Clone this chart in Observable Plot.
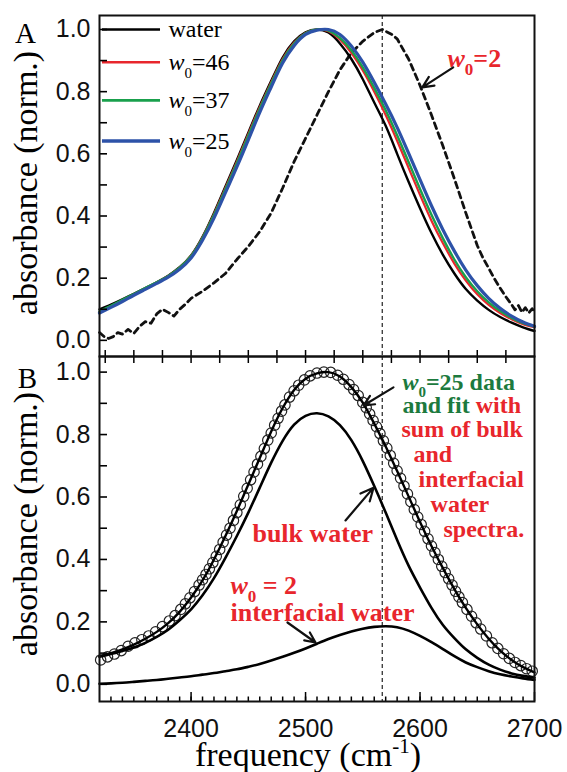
<!DOCTYPE html>
<html>
<head>
<meta charset="utf-8">
<script src="https://cdn.jsdelivr.net/npm/d3@7"></script>
<script src="https://cdn.jsdelivr.net/npm/@observablehq/plot@0.6"></script>
<style>
  body { margin: 0; background: #fff; }
  #chart { width: 567px; }
  #chart svg { display: block; overflow: visible; }
</style>
</head>
<body>
<div id="chart"></div>
<script>
// ---------------- DATA ----------------
const freq = [2320,2330,2340,2350,2360,2370,2380,2390,2400,2410,2420,2430,2440,2450,2460,2470,2480,2490,2500,2510,2520,2530,2540,2550,2560,2570,2580,2590,2600,2610,2620,2630,2640,2650,2660,2670,2680,2690,2700];

// Panel A
const water = [0.100,0.115,0.132,0.150,0.168,0.187,0.208,0.235,0.273,0.333,0.410,0.495,0.580,0.668,0.755,0.835,0.910,0.962,0.991,1.000,0.990,0.955,0.905,0.840,0.765,0.690,0.600,0.510,0.425,0.345,0.275,0.215,0.165,0.128,0.098,0.075,0.057,0.042,0.030];
const w46 = [0.092,0.110,0.129,0.148,0.167,0.186,0.207,0.234,0.272,0.331,0.406,0.490,0.575,0.663,0.750,0.830,0.905,0.958,0.989,1.000,0.994,0.968,0.925,0.868,0.800,0.725,0.642,0.555,0.468,0.385,0.312,0.247,0.192,0.148,0.114,0.088,0.068,0.052,0.042];
const w37 = [0.093,0.111,0.130,0.149,0.168,0.187,0.207,0.234,0.271,0.329,0.403,0.486,0.570,0.658,0.745,0.826,0.901,0.955,0.988,1.000,0.996,0.973,0.933,0.878,0.812,0.740,0.660,0.574,0.487,0.404,0.328,0.260,0.203,0.158,0.122,0.094,0.072,0.055,0.044];
const w25 = [0.088,0.106,0.125,0.145,0.164,0.183,0.203,0.229,0.265,0.322,0.393,0.475,0.558,0.645,0.733,0.815,0.892,0.948,0.984,0.998,1.000,0.984,0.947,0.895,0.830,0.760,0.685,0.602,0.517,0.433,0.356,0.287,0.226,0.176,0.135,0.103,0.078,0.059,0.045];

const w2Freq = [2320,2324,2328,2332,2336,2340,2345,2350,2355,2360,2365,2370,2375,2380,2385,2390,2395,2400,2410,2420,2430,2440,2450,2460,2470,2480,2490,2500,2510,2520,2530,2540,2550,2560,2567,2575,2580,2590,2600,2610,2620,2630,2640,2650,2655,2660,2665,2670,2675,2680,2683,2686,2689,2692,2695,2698,2700];
const w2 = [0.025,0.012,0.006,0.012,0.025,0.020,0.035,0.022,0.045,0.060,0.055,0.085,0.100,0.090,0.078,0.100,0.116,0.135,0.158,0.185,0.215,0.260,0.302,0.350,0.410,0.490,0.575,0.650,0.725,0.800,0.870,0.925,0.962,0.990,1.000,0.985,0.970,0.905,0.820,0.725,0.625,0.520,0.410,0.305,0.265,0.232,0.198,0.168,0.140,0.115,0.098,0.112,0.090,0.105,0.088,0.102,0.090];

// Panel B
const bulk = [0.088,0.097,0.107,0.118,0.133,0.152,0.175,0.205,0.240,0.285,0.340,0.405,0.475,0.550,0.630,0.710,0.780,0.832,0.860,0.868,0.858,0.830,0.782,0.715,0.635,0.550,0.462,0.380,0.310,0.245,0.190,0.148,0.112,0.085,0.063,0.047,0.035,0.027,0.021];
const interfacial = [0.002,0.003,0.005,0.008,0.011,0.014,0.018,0.022,0.026,0.031,0.036,0.042,0.048,0.056,0.065,0.076,0.088,0.101,0.115,0.130,0.145,0.158,0.169,0.178,0.184,0.186,0.183,0.172,0.155,0.135,0.113,0.090,0.070,0.055,0.042,0.032,0.025,0.019,0.014];
const fit = [0.090,0.100,0.112,0.127,0.146,0.168,0.196,0.232,0.278,0.333,0.400,0.475,0.555,0.640,0.725,0.810,0.885,0.943,0.979,0.996,1.000,0.986,0.952,0.902,0.835,0.762,0.683,0.602,0.520,0.443,0.372,0.305,0.245,0.192,0.146,0.108,0.078,0.055,0.038];

const circleFreq = [2321,2327,2333,2339,2345,2351,2357,2363,2369,2375,2381,2386,2391,2395,2399,2403,2407,2410,2413,2416,2419,2422,2425,2428,2431,2434,2437,2440,2443,2446,2449,2452,2455,2458,2461,2464,2467,2470,2473,2476,2479,2482,2486,2490,2494,2499,2504,2510,2516,2522,2528,2533,2538,2542,2546,2550,2553,2556,2559,2562,2565,2568,2571,2574,2577,2580,2583,2586,2589,2592,2595,2598,2601,2604,2607,2610,2613,2616,2619,2622,2625,2628,2631,2634,2637,2641,2645,2649,2653,2658,2663,2668,2673,2678,2683,2688,2693,2698];
const circleVal = [0.078,0.088,0.097,0.108,0.122,0.133,0.143,0.155,0.168,0.185,0.203,0.220,0.240,0.258,0.277,0.297,0.318,0.335,0.352,0.370,0.390,0.410,0.432,0.455,0.478,0.500,0.525,0.550,0.575,0.602,0.628,0.655,0.680,0.705,0.730,0.755,0.782,0.805,0.830,0.852,0.875,0.895,0.920,0.940,0.958,0.975,0.988,0.997,1.000,0.999,0.990,0.977,0.960,0.944,0.925,0.903,0.886,0.866,0.845,0.825,0.803,0.780,0.757,0.733,0.708,0.684,0.660,0.635,0.610,0.585,0.560,0.536,0.512,0.490,0.466,0.443,0.422,0.400,0.378,0.358,0.338,0.318,0.298,0.280,0.262,0.240,0.218,0.197,0.177,0.155,0.133,0.115,0.098,0.083,0.070,0.060,0.050,0.042];

// ticks & labels
const xTickLabels = [2400, 2500, 2600, 2700];
const yTickLabels = [0.0, 0.2, 0.4, 0.6, 0.8, 1.0];
const peakFreq = [2567];
const legendLabels = ["water", "w0=46", "w0=37", "w0=25"];
const panelLabels = ["A", "B"];
const yTitle = "absorbance (norm.)";
const xTitle = "frequency (cm-1)";

// annotations (text + anchor in data coordinates)
const annotA = [{text: "w0=2", x: 2624, y: 0.905}];
const arrowsA = [{x1: 2629, y1: 0.878, x2: 2602, y2: 0.814}];
const annotBRight = [
  {text: "w0=25 data", x: 2584.6, y: 0.967},
  {text: "and fit with", x: 2584.6, y: 0.893},
  {text: "sum of bulk", x: 2583.8, y: 0.816},
  {text: "and", x: 2594.3, y: 0.736},
  {text: "interfacial", x: 2598.7, y: 0.656},
  {text: "water", x: 2609.2, y: 0.576},
  {text: "spectra.", x: 2620.5, y: 0.496}
];
const annotBLeft = [
  {text: "bulk water", x: 2453.6, y: 0.483},
  {text: "w0 = 2", x: 2434.4, y: 0.316},
  {text: "interfacial water", x: 2434.4, y: 0.229}
];
const arrowsB = [
  {x1: 2576.8, y1: 0.951, x2: 2550.6, y2: 0.893},
  {x1: 2534.9, y1: 0.525, x2: 2559.4, y2: 0.630},
  {x1: 2484.2, y1: 0.198, x2: 2508.7, y2: 0.134}
];

// ---------------- STYLE / LAYOUT ----------------
const SERIF = "Liberation Serif";
const SANS = "Liberation Sans";
const RED = "#e8262c";
const GREEN = "#1c7a3e";
const BLUE = "#2d52a8";
const GREENLINE = "#19a04c";
const W = 567;
const X_DOMAIN = [2320, 2700];
const legendY = [1.0, 0.895, 0.772, 0.641];
const legendX = [2322.6, 2373.3];
const legendTextX = 2380.3;
const seriesStyle = [
  {values: water, color: "#000", width: 2.4},
  {values: w46, color: RED, width: 2.2},
  {values: w37, color: GREENLINE, width: 2.4},
  {values: w25, color: BLUE, width: 3.2}
];

const rows = (xs, ys) => xs.map((x, i) => ({x, y: ys[i]}));
const yMinor = d3.range(0, 10.5, 1).map(d => d / 10);
const x25 = d3.range(2325, 2700, 25);
const x10 = d3.range(2330, 2700, 10);

const leftAxes = () => [
  Plot.axisY(yMinor, {anchor: "left", tickSize: -8, tickFormat: () => "", label: null, strokeWidth: 1.6}),
  Plot.axisY(yTickLabels, {anchor: "left", tickSize: 0, tickPadding: 9, tickFormat: d3.format(".1f"), label: null, fontSize: 25, fontFamily: SANS, fill: "#111"})
];
const yTitleMark = (dy) => Plot.text([yTitle], {frameAnchor: "left", dx: -73, dy, rotate: -90, text: d => d, textAnchor: "middle", lineAnchor: "middle", fontFamily: SERIF, fontSize: 34, fill: "black"});
const panelLabel = (t, dx, dy) => Plot.text([t], {frameAnchor: "top-left", dx, dy, text: d => d, textAnchor: "middle", lineAnchor: "middle", fontFamily: SERIF, fontSize: 29, fill: "black"});

// ---------------- PANEL A ----------------
const plotA = Plot.plot({
  width: W, height: 356,
  marginTop: 15, marginBottom: 0, marginLeft: 99, marginRight: 33,
  x: {domain: X_DOMAIN, label: null},
  y: {domain: [-0.052, 1.045], label: null},
  style: {background: "white", overflow: "visible", fontFamily: SANS, color: "black"},
  marks: [
    Plot.ruleX(peakFreq, {stroke: "#222", strokeWidth: 1.2, strokeDasharray: "4,3"}),
    Plot.line(rows(w2Freq, w2), {x: "x", y: "y", stroke: "#111", strokeWidth: 2.8, strokeDasharray: "6,4.5"}),
    ...seriesStyle.map(s => Plot.line(rows(freq, s.values), {x: "x", y: "y", stroke: s.color, strokeWidth: s.width, curve: "natural"})),
    ...seriesStyle.map((s, i) => Plot.ruleY([legendY[i]], {x1: legendX[0], x2: legendX[1], stroke: s.color, strokeWidth: s.width + 0.3})),
    ...legendLabels.map((lab, i) => Plot.text([lab], {x: legendTextX, y: legendY[i], text: d => d, textAnchor: "start", fontFamily: SERIF, fontSize: 24, fill: "black"})),
    Plot.text(annotA, {x: "x", y: "y", text: "text", textAnchor: "start", fontFamily: SERIF, fontSize: 26, fontWeight: "bold", fill: RED}),
    Plot.arrow(arrowsA, {x1: "x1", y1: "y1", x2: "x2", y2: "y2", stroke: "#111", strokeWidth: 2.2, headLength: 11, headAngle: 50}),
    ...leftAxes(),
    Plot.axisX(x25, {anchor: "bottom", tickSize: -6, tickFormat: () => "", label: null, strokeWidth: 1.5}),
    Plot.frame({stroke: "#111", strokeWidth: 2}),
    panelLabel(panelLabels[0], -74, 18),
    yTitleMark(-3)
  ]
});

// ---------------- PANEL B ----------------
const plotB = Plot.plot({
  width: W, height: 416,
  marginTop: 0, marginBottom: 71, marginLeft: 99, marginRight: 33,
  x: {domain: X_DOMAIN, label: null},
  y: {domain: [-0.055, 1.05], label: null},
  style: {background: "white", overflow: "visible", fontFamily: SANS, color: "black"},
  marks: [
    Plot.ruleX(peakFreq, {stroke: "#222", strokeWidth: 1.2, strokeDasharray: "4,3"}),
    Plot.dot(rows(circleFreq, circleVal), {x: "x", y: "y", r: 5.2, stroke: "#222", strokeWidth: 1.2, fill: "none"}),
    Plot.line(rows(freq, bulk), {x: "x", y: "y", stroke: "#000", strokeWidth: 2.6, curve: "natural"}),
    Plot.line(rows(freq, interfacial), {x: "x", y: "y", stroke: "#000", strokeWidth: 2.6, curve: "natural"}),
    Plot.line(rows(freq, fit), {x: "x", y: "y", stroke: "#000", strokeWidth: 2.4, curve: "natural"}),
    Plot.text(annotBRight, {x: "x", y: "y", text: "text", textAnchor: "start", fontFamily: SERIF, fontSize: 24, fontWeight: "bold", fill: RED}),
    Plot.text(annotBLeft, {x: "x", y: "y", text: "text", textAnchor: "start", fontFamily: SERIF, fontSize: 26, fontWeight: "bold", fill: RED}),
    Plot.arrow(arrowsB, {x1: "x1", y1: "y1", x2: "x2", y2: "y2", stroke: "#111", strokeWidth: 2.2, headLength: 11, headAngle: 50}),
    ...leftAxes(),
    Plot.axisX(x25, {anchor: "top", tickSize: -6, tickFormat: () => "", label: null, strokeWidth: 1.5}),
    Plot.axisX(x10, {anchor: "bottom", tickSize: -4.5, tickFormat: () => "", label: null, strokeWidth: 1.5}),
    Plot.axisX(xTickLabels, {anchor: "bottom", tickSize: -9, tickFormat: () => "", label: null, strokeWidth: 1.5}),
    Plot.axisX(xTickLabels, {anchor: "bottom", tickSize: 0, tickPadding: 18, tickFormat: d => String(d), label: null, fontSize: 25, fontFamily: SANS, fill: "#111"}),
    Plot.frame({stroke: "#111", strokeWidth: 2}),
    panelLabel(panelLabels[1], -72, 22),
    yTitleMark(-5),
    Plot.text([xTitle], {frameAnchor: "bottom", dx: -9, dy: 54, text: d => d, textAnchor: "middle", lineAnchor: "middle", fontFamily: SERIF, fontSize: 34, fill: "black"})
  ]
});

// ---------------- rich text (italic w, subscripts, superscripts, colour runs) ----------------
const sub = (size, shift, rest) => `<tspan font-style="italic">w</tspan><tspan font-size="${size}" dy="${shift}">0</tspan><tspan dy="${-shift}">${rest}</tspan>`;
const richMap = {
  "w0=46": sub(15, 8, "=46"),
  "w0=37": sub(15, 8, "=37"),
  "w0=25": sub(15, 8, "=25"),
  "w0=2": sub(17, 8, "=2"),
  "w0 = 2": sub(17, 8, " = 2"),
  "w0=25 data": `<tspan fill="${GREEN}">${sub(15, 7, "=25 data")}</tspan>`,
  "and fit with": `<tspan fill="${GREEN}">and fit</tspan><tspan fill="${RED}"> with</tspan>`,
  "frequency (cm-1)": `frequency (cm<tspan font-size="21" dy="-13">-1</tspan><tspan dy="13">)</tspan>`
};
for (const svg of [plotA, plotB]) {
  svg.querySelectorAll("text").forEach(t => {
    const k = t.textContent;
    if (richMap[k] !== undefined) t.innerHTML = richMap[k];
  });
}

const chart = document.getElementById("chart");
chart.append(plotA, plotB);
</script>
</body>
</html>
